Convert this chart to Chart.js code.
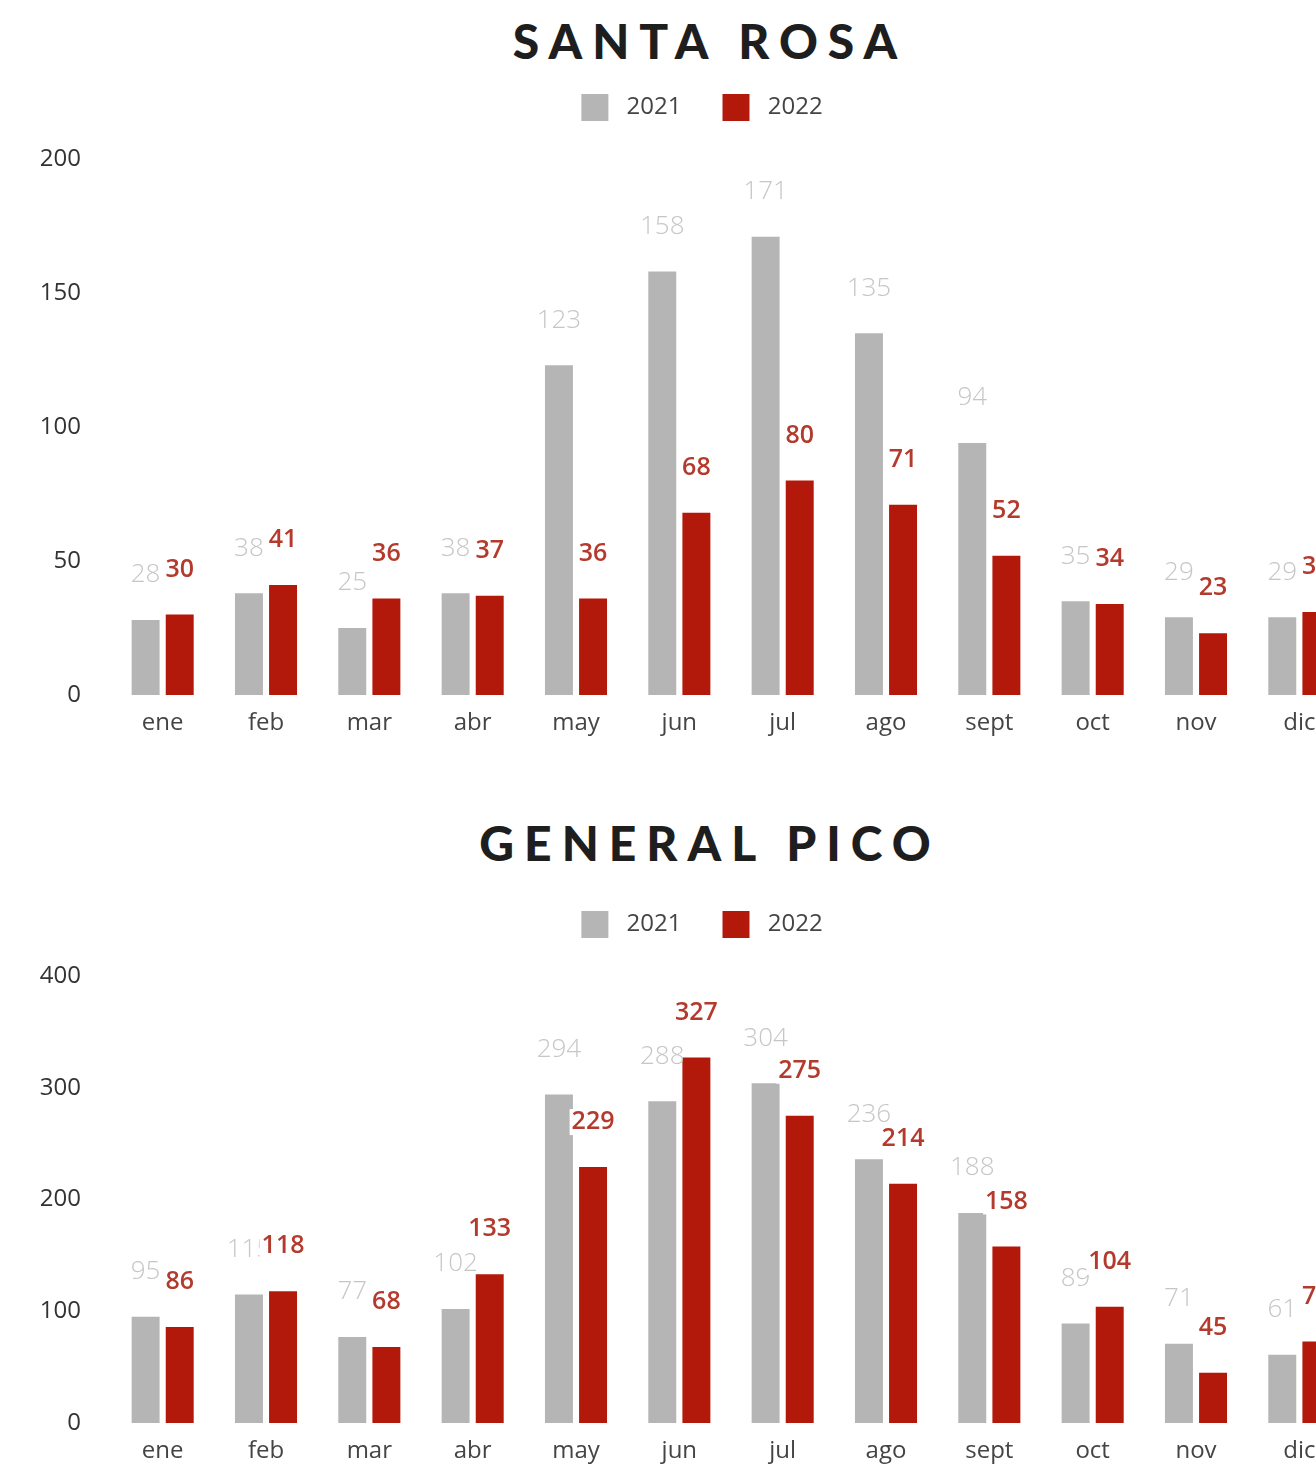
<!DOCTYPE html>
<html>
<head>
<meta charset="utf-8">
<script src="https://cdn.jsdelivr.net/npm/chart.js@4"></script>
<style>
  html, body { margin: 0; padding: 0; background: #fff; overflow: hidden; }
  #page { position: relative; width: 1410px; height: 1464px; }
  .title {
    position: absolute; left: 0; width: 1410px; text-align: center;
    font-family: "Lato", "DejaVu Sans", sans-serif; font-weight: 900;
    font-size: 48px; letter-spacing: 10px; padding-left: 10px; box-sizing: border-box;
    color: #1e1e1e; line-height: 60px;
  }
  .box { position: absolute; left: 0; width: 1410px; }
</style>
</head>
<body>
<div id="page">
  <div class="title" style="top:11px">SANTA ROSA</div>
  <div class="box" id="box1" style="top:53px;height:694px"><canvas id="chart1"></canvas></div>
  <div class="title" style="top:813px">GENERAL PICO</div>
  <div class="box" id="box2" style="top:870px;height:605px"><canvas id="chart2"></canvas></div>
</div>
<script>
// ---------------- DATA ----------------
const months = ["ene", "feb", "mar", "abr", "may", "jun", "jul", "ago", "sept", "oct", "nov", "dic"];

const santaRosa2021 = [28, 38, 25, 38, 123, 158, 171, 135, 94, 35, 29, 29];
const santaRosa2022 = [30, 41, 36, 37, 36, 68, 80, 71, 52, 34, 23, 31];
const santaRosaTicks = [0, 50, 100, 150, 200];

const generalPico2021 = [95, 115, 77, 102, 294, 288, 304, 236, 188, 89, 71, 61];
const generalPico2022 = [86, 118, 68, 133, 229, 327, 275, 214, 158, 104, 45, 73];
const generalPicoTicks = [0, 100, 200, 300, 400];

const GRAY = "#b5b5b5";
const RED = "#b3190b";
const FONT = "'Open Sans', sans-serif";

// ---------------- Value labels above bars ----------------
const valueLabels = {
  id: "valueLabels",
  afterDatasetsDraw(chart) {
    const ctx = chart.ctx;
    ctx.save();
    ctx.textAlign = "center";
    ctx.textBaseline = "middle";
    chart.data.datasets.forEach((ds, i) => {
      const meta = chart.getDatasetMeta(i);
      meta.data.forEach((bar, j) => {
        const txt = String(ds.data[j]);
        const y = bar.y - 45;
        if (i === 1) {
          ctx.font = "600 25px " + FONT;
          const w = ctx.measureText(txt).width;
          ctx.fillStyle = "#fff";
          ctx.fillRect(bar.x - w / 2 - 2, y - 13, w + 4, 26);
          ctx.fillStyle = "#b43a2d";
        } else {
          ctx.font = "300 26px " + FONT;
          ctx.fillStyle = "#c6c6c6";
        }
        ctx.fillText(txt, bar.x, y);
      });
    });
    ctx.restore();
  }
};

// legend height fix so the plot area lands where it should,
// and centre the legend on the whole canvas, not the padded area
function legendHeight(h) {
  return {
    id: "legendHeight",
    beforeInit(chart) {
      const fit = chart.legend.fit;
      chart.legend.fit = function () {
        fit.bind(chart.legend)();
        this.height = h;
      };
    },
    afterLayout(chart) {
      chart.legend.left = 0;
      chart.legend.right = chart.width - 6;
    }
  };
}

function makeChart(id, d2021, d2022, ticks, legendH) {
  const ctx = document.getElementById(id).getContext("2d");
  const max = ticks[ticks.length - 1];
  const step = ticks[1] - ticks[0];
  return new Chart(ctx, {
    type: "bar",
    data: {
      labels: months,
      datasets: [
        { label: "2021", data: d2021, backgroundColor: GRAY },
        { label: "2022", data: d2022, backgroundColor: RED }
      ]
    },
    options: {
      responsive: true,
      maintainAspectRatio: false,
      animation: false,
      layout: { padding: { left: 0, right: 59, top: 0, bottom: 0 } },
      datasets: { bar: { categoryPercentage: 0.66, barPercentage: 0.82 } },
      plugins: {
        legend: {
          position: "top",
          labels: {
            boxWidth: 27, boxHeight: 27, padding: 41,
            color: "#444",
            font: { family: FONT, size: 24 },
            generateLabels(chart) {
              const items = Chart.defaults.plugins.legend.labels.generateLabels(chart);
              items.forEach(it => { it.text = " " + it.text; });
              return items;
            }
          }
        },
        tooltip: { enabled: false }
      },
      scales: {
        x: {
          grid: { display: false, drawTicks: false },
          border: { display: false },
          ticks: { padding: 14, color: "#444", font: { family: FONT, size: 24 } },
          afterFit(scale) { scale.height = 52; }
        },
        y: {
          min: 0, max: max,
          grid: { display: false, drawTicks: false },
          border: { display: false },
          ticks: { stepSize: step, padding: 30, color: "#333", font: { family: FONT, size: 24 } },
          afterFit(scale) { scale.width = 111; }
        }
      }
    },
    plugins: [valueLabels, legendHeight(legendH)]
  });
}

makeChart("chart1", santaRosa2021, santaRosa2022, santaRosaTicks, 106);
makeChart("chart2", generalPico2021, generalPico2022, generalPicoTicks, 106);
</script>
</body>
</html>
